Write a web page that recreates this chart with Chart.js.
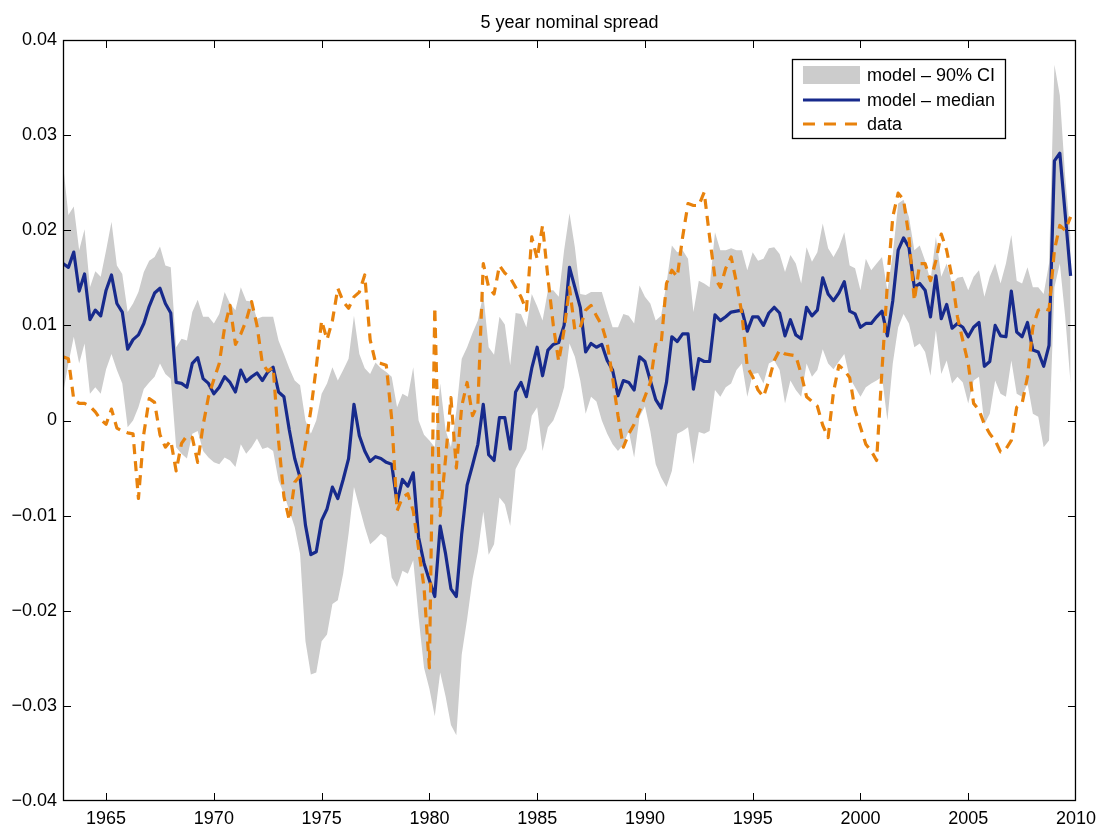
<!DOCTYPE html>
<html>
<head>
<meta charset="utf-8">
<title>5 year nominal spread</title>
<script src="https://cdn.jsdelivr.net/npm/chart.js@4.4.1/dist/chart.umd.min.js"></script>
<style>
  html, body { margin: 0; padding: 0; background: #fff; }
  #wrap { width: 1103px; height: 826px; }
</style>
</head>
<body>
<div id="wrap"><canvas id="spread"></canvas></div>
<script>
// quarterly observations, first one is 1963Q1
const startYear = 1963;

const xTicks = [1965, 1970, 1975, 1980, 1985, 1990, 1995, 2000, 2005, 2010];
const yTicks = [-0.04, -0.03, -0.02, -0.01, 0, 0.01, 0.02, 0.03, 0.04];

// model - median
const median = [
  0.0165, 0.0161, 0.0177, 0.0136,   // 1963
  0.0154, 0.0106, 0.0116, 0.0110,
  0.0137, 0.0153, 0.0123, 0.0114,   // 1965
  0.0075, 0.0085, 0.0090, 0.0102,
  0.0120, 0.0134, 0.0139, 0.0123,
  0.0113, 0.0040, 0.0039, 0.0035,
  0.0060, 0.0066, 0.0044, 0.0039,
  0.0028, 0.0035, 0.0046, 0.0040,   // 1970
  0.0030, 0.0053, 0.0041, 0.0046,
  0.0050, 0.0042, 0.0051, 0.0056,
  0.0030, 0.0025, -0.0010, -0.0040,
  -0.0060, -0.0110, -0.0141, -0.0138,
  -0.0105, -0.0093, -0.0070, -0.0082, // 1975
  -0.0062, -0.0040, 0.0017, -0.0016,
  -0.0032, -0.0043, -0.0038, -0.0040,
  -0.0044, -0.0046, -0.0086, -0.0062,
  -0.0069, -0.0055, -0.0123, -0.0150,
  -0.0168, -0.0185, -0.0111, -0.0140, // 1980
  -0.0177, -0.0185, -0.0119, -0.0068,
  -0.0047, -0.0025, 0.0017, -0.0036,
  -0.0042, 0.0003, 0.0003, -0.0030,
  0.0030, 0.0040, 0.0025, 0.0055,
  0.0077, 0.0047, 0.0074, 0.0080,   // 1985
  0.0082, 0.0100, 0.0161, 0.0140,
  0.0119, 0.0072, 0.0081, 0.0077,
  0.0080, 0.0063, 0.0053, 0.0026,
  0.0042, 0.0040, 0.0032, 0.0067,
  0.0062, 0.0042, 0.0022, 0.0013,   // 1990
  0.0040, 0.0088, 0.0083, 0.0091,
  0.0091, 0.0033, 0.0065, 0.0062,
  0.0062, 0.0111, 0.0105, 0.0109,
  0.0114, 0.0115, 0.0116, 0.0094,
  0.0109, 0.0109, 0.0100, 0.0113,   // 1995
  0.0119, 0.0113, 0.0089, 0.0106,
  0.0090, 0.0086, 0.0119, 0.0110,
  0.0116, 0.0150, 0.0133, 0.0126,
  0.0134, 0.0146, 0.0115, 0.0112,
  0.0098, 0.0102, 0.0102, 0.0109,   // 2000
  0.0115, 0.0089, 0.0126, 0.0179,
  0.0192, 0.0182, 0.0140, 0.0144,
  0.0137, 0.0109, 0.0152, 0.0107,
  0.0122, 0.0097, 0.0102, 0.0098,
  0.0088, 0.0098, 0.0103, 0.0057,   // 2005
  0.0062, 0.0100, 0.0089, 0.0088,
  0.0136, 0.0093, 0.0088, 0.0103,
  0.0074, 0.0072, 0.0057, 0.0079,
  0.0273, 0.0281, 0.0217, 0.0152    // 2009
];

// model - 90% CI, upper edge
const ciUpper = [
  0.0270, 0.0216, 0.0225, 0.0179,   // 1963
  0.0201, 0.0140, 0.0157, 0.0151,
  0.0179, 0.0209, 0.0163, 0.0154,   // 1965
  0.0114, 0.0123, 0.0135, 0.0156,
  0.0168, 0.0172, 0.0183, 0.0163,
  0.0161, 0.0077, 0.0086, 0.0084,
  0.0114, 0.0127, 0.0109, 0.0109,
  0.0102, 0.0112, 0.0135, 0.0123,   // 1970
  0.0116, 0.0140, 0.0126, 0.0125,
  0.0107, 0.0109, 0.0109, 0.0109,
  0.0084, 0.0070, 0.0055, 0.0042,
  0.0037, 0.0000, -0.0014, 0.0000,
  0.0028, 0.0039, 0.0056, 0.0042,   // 1975
  0.0053, 0.0065, 0.0110, 0.0070,
  0.0055, 0.0049, 0.0061, 0.0055,
  0.0051, 0.0046, 0.0014, 0.0028,
  0.0025, 0.0056, 0.0000, -0.0015,
  -0.0021, -0.0028, 0.0039, -0.0010, // 1980
  -0.0028, 0.0010, 0.0065, 0.0077,
  0.0092, 0.0105, 0.0133, 0.0077,
  0.0069, 0.0109, 0.0101, 0.0058,
  0.0113, 0.0112, 0.0098, 0.0133,
  0.0120, 0.0105, 0.0137, 0.0137,   // 1985
  0.0130, 0.0179, 0.0218, 0.0182,
  0.0133, 0.0132, 0.0135, 0.0135,
  0.0135, 0.0116, 0.0098, 0.0098,
  0.0112, 0.0110, 0.0102, 0.0142,
  0.0130, 0.0123, 0.0105, 0.0110,   // 1990
  0.0144, 0.0184, 0.0177, 0.0179,
  0.0170, 0.0114, 0.0147, 0.0144,
  0.0140, 0.0198, 0.0179, 0.0179,
  0.0181, 0.0179, 0.0179, 0.0158,
  0.0177, 0.0168, 0.0170, 0.0181,   // 1995
  0.0182, 0.0175, 0.0156, 0.0174,
  0.0165, 0.0144, 0.0182, 0.0167,
  0.0177, 0.0207, 0.0181, 0.0172,
  0.0182, 0.0198, 0.0163, 0.0160,
  0.0137, 0.0170, 0.0158, 0.0165,   // 2000
  0.0172, 0.0137, 0.0175, 0.0228,
  0.0232, 0.0214, 0.0179, 0.0184,
  0.0168, 0.0147, 0.0193, 0.0151,
  0.0165, 0.0144, 0.0150, 0.0151,
  0.0137, 0.0151, 0.0158, 0.0130,   // 2005
  0.0151, 0.0165, 0.0144, 0.0165,
  0.0195, 0.0147, 0.0144, 0.0161,
  0.0140, 0.0140, 0.0133, 0.0165,
  0.0374, 0.0342, 0.0256, 0.0193    // 2009
];

// model - 90% CI, lower edge
const ciLower = [
  0.0028, 0.0060, 0.0088, 0.0060,   // 1963
  0.0081, 0.0028, 0.0035, 0.0028,
  0.0054, 0.0070, 0.0053, 0.0039,   // 1965
  -0.0007, 0.0000, 0.0014, 0.0033,
  0.0040, 0.0046, 0.0060, 0.0049,
  0.0044, -0.0028, -0.0035, -0.0040,
  -0.0014, -0.0011, -0.0032, -0.0039,
  -0.0044, -0.0046, -0.0039, -0.0042, // 1970
  -0.0049, -0.0025, -0.0035, -0.0028,
  -0.0019, -0.0030, -0.0028, -0.0032,
  -0.0063, -0.0077, -0.0095, -0.0112,
  -0.0140, -0.0232, -0.0267, -0.0265,
  -0.0232, -0.0225, -0.0193, -0.0189, // 1975
  -0.0161, -0.0119, -0.0070, -0.0091,
  -0.0112, -0.0130, -0.0125, -0.0119,
  -0.0123, -0.0165, -0.0175, -0.0158,
  -0.0161, -0.0147, -0.0207, -0.0260,
  -0.0282, -0.0311, -0.0265, -0.0290, // 1980
  -0.0320, -0.0331, -0.0246, -0.0209,
  -0.0167, -0.0138, -0.0096, -0.0141,
  -0.0130, -0.0081, -0.0088, -0.0111,
  -0.0051, -0.0040, -0.0030, 0.0005,
  0.0014, -0.0032, -0.0007, 0.0000,  // 1985
  0.0015, 0.0035, 0.0081, 0.0067,
  0.0042, 0.0007, 0.0025, 0.0020,
  0.0000, -0.0014, -0.0025, -0.0032,
  -0.0025, -0.0011, -0.0039, 0.0004,
  0.0015, -0.0011, -0.0046, -0.0060, // 1990
  -0.0070, -0.0053, -0.0014, -0.0011,
  -0.0007, -0.0046, -0.0012, -0.0014,
  -0.0011, 0.0032, 0.0025, 0.0035,
  0.0039, 0.0053, 0.0060, 0.0025,
  0.0049, 0.0050, 0.0039, 0.0060,   // 1995
  0.0063, 0.0053, 0.0018, 0.0042,
  0.0032, 0.0025, 0.0060, 0.0046,
  0.0053, 0.0075, 0.0060, 0.0054,
  0.0062, 0.0070, 0.0045, 0.0035,
  0.0025, 0.0035, 0.0039, 0.0042,   // 2000
  0.0046, 0.0000, 0.0060, 0.0098,
  0.0112, 0.0102, 0.0077, 0.0081,
  0.0072, 0.0047, 0.0095, 0.0049,
  0.0063, 0.0039, 0.0046, 0.0040,
  0.0018, 0.0042, 0.0046, -0.0004,  // 2005
  0.0007, 0.0042, 0.0028, 0.0025,
  0.0063, 0.0028, 0.0025, 0.0039,
  0.0007, 0.0004, -0.0028, -0.0021,
  0.0140, 0.0165, 0.0109, 0.0039    // 2009
];

// data
const observed = [
  0.0067, 0.0065, 0.0022, 0.0018,   // 1963
  0.0018, 0.0015, 0.0009, 0.0001,
  -0.0004, 0.0012, -0.0008, -0.0011, // 1965
  -0.0013, -0.0014, -0.0082, -0.0014,
  0.0023, 0.0019, -0.0015, -0.0028,
  -0.0021, -0.0053, -0.0024, -0.0016,
  -0.0018, -0.0044, -0.0005, 0.0025,
  0.0043, 0.0060, 0.0098, 0.0121,   // 1970
  0.0080, 0.0091, 0.0105, 0.0125,
  0.0100, 0.0060, 0.0052, 0.0056,
  -0.0021, -0.0080, -0.0105, -0.0065,
  -0.0058, -0.0025, 0.0011, 0.0056,
  0.0105, 0.0085, 0.0105, 0.0139,   // 1975
  0.0125, 0.0118, 0.0130, 0.0135,
  0.0153, 0.0085, 0.0061, 0.0060,
  0.0058, 0.0002, -0.0095, -0.0081,
  -0.0077, -0.0095, -0.0135, -0.0175,
  -0.0260, 0.0119, -0.0100, -0.0040, // 1980
  0.0024, -0.0050, 0.0015, 0.0040,
  0.0005, 0.0017, 0.0165, 0.0140,
  0.0133, 0.0163, 0.0155, 0.0150,
  0.0140, 0.0130, 0.0116, 0.0193,
  0.0170, 0.0205, 0.0150, 0.0100,   // 1985
  0.0062, 0.0095, 0.0140, 0.0095,
  0.0098, 0.0116, 0.0121, 0.0110,
  0.0100, 0.0081, 0.0045, 0.0005,
  -0.0028, -0.0014, -0.0004, 0.0010,
  0.0025, 0.0040, 0.0080, 0.0080,   // 1990
  0.0144, 0.0158, 0.0151, 0.0193,
  0.0228, 0.0226, 0.0226, 0.0240,
  0.0193, 0.0150, 0.0140, 0.0160,
  0.0172, 0.0145, 0.0112, 0.0056,
  0.0046, 0.0032, 0.0025, 0.0042,   // 1995
  0.0063, 0.0074, 0.0070, 0.0069,
  0.0068, 0.0049, 0.0025, 0.0020,
  0.0015, -0.0005, -0.0018, 0.0030,
  0.0058, 0.0053, 0.0045, 0.0011,
  -0.0007, -0.0025, -0.0032, -0.0042, // 2000
  0.0053, 0.0144, 0.0214, 0.0239,
  0.0232, 0.0193, 0.0126, 0.0165,
  0.0165, 0.0147, 0.0168, 0.0196,
  0.0179, 0.0150, 0.0109, 0.0084,
  0.0060, 0.0018, 0.0011, -0.0004,  // 2005
  -0.0014, -0.0021, -0.0033, -0.0030,
  -0.0021, 0.0014, 0.0018, 0.0046,
  0.0098, 0.0116, 0.0118, 0.0116,
  0.0179, 0.0205, 0.0200, 0.0214    // 2009
];

const FONT = { family: '"Liberation Sans", Arial, Helvetica, sans-serif', size: 18 };
const BAND = '#cccccc';
const BLUE = '#172a8c';
const ORANGE = '#e8820c';

function toPoints(vals) {
  return vals.map((v, i) => ({ x: startYear + i / 4, y: v }));
}

function tickLabel(v) {
  if (Math.abs(v) < 1e-9) return '0';
  return (v < 0 ? '\u2212' : '') + Math.abs(v).toFixed(2);
}

// frame with inward ticks (matlab style) + legend box in the upper right
const framePlugin = {
  id: 'frame',
  afterDatasetsDraw(chart) {
    const { ctx, chartArea: a, scales } = chart;
    const x = scales.x, y = scales.y;
    const len = 8;
    ctx.save();
    ctx.strokeStyle = '#000';
    ctx.lineWidth = 1;
    ctx.beginPath();
    // ticks that sit on the frame itself are skipped
    xTicks.filter(v => v > x.min && v < x.max).forEach(v => {
      const px = Math.round(x.getPixelForValue(v)) + 0.5;
      ctx.moveTo(px, a.bottom); ctx.lineTo(px, a.bottom - len);
      ctx.moveTo(px, a.top); ctx.lineTo(px, a.top + len);
    });
    yTicks.filter(v => v > y.min && v < y.max).forEach(v => {
      const py = Math.round(y.getPixelForValue(v)) + 0.5;
      ctx.moveTo(a.left, py); ctx.lineTo(a.left + len, py);
      ctx.moveTo(a.right, py); ctx.lineTo(a.right - len, py);
    });
    ctx.stroke();
    ctx.lineWidth = 1.3;
    ctx.strokeRect(a.left + 0.5, a.top + 0.5, a.right - a.left - 1, a.bottom - a.top - 1);

    // legend
    const ds = chart.data.datasets;
    const boxL = a.right - 284, boxT = a.top + 19, boxW = 213, boxH = 79;
    ctx.fillStyle = '#fff';
    ctx.fillRect(boxL, boxT, boxW, boxH);
    ctx.strokeRect(boxL + 0.5, boxT + 0.5, boxW, boxH);
    const sx = boxL + 11, ex = boxL + 68, tx = boxL + 75;
    const rows = [boxT + 16, boxT + 41, boxT + 65];
    ctx.fillStyle = BAND;
    ctx.fillRect(sx, rows[0] - 9, ex - sx, 18);
    ctx.lineWidth = 3;
    ctx.strokeStyle = BLUE;
    ctx.beginPath(); ctx.moveTo(sx, rows[1]); ctx.lineTo(ex, rows[1]); ctx.stroke();
    ctx.strokeStyle = ORANGE;
    ctx.setLineDash([12, 9]);
    ctx.beginPath(); ctx.moveTo(sx, rows[2]); ctx.lineTo(ex, rows[2]); ctx.stroke();
    ctx.setLineDash([]);
    ctx.fillStyle = '#000';
    ctx.font = FONT.size + 'px ' + FONT.family;
    ctx.textBaseline = 'middle';
    ctx.textAlign = 'left';
    ctx.fillText(ds[1].label, tx, rows[0] + 1);
    ctx.fillText(ds[2].label, tx, rows[1] + 1);
    ctx.fillText(ds[3].label, tx, rows[2] + 1);
    ctx.restore();
  }
};

new Chart(document.getElementById('spread'), {
  type: 'line',
  data: {
    datasets: [
      { label: 'lower', data: toPoints(ciLower), borderWidth: 0, pointRadius: 0, fill: false, order: 3 },
      { label: 'model \u2013 90% CI', data: toPoints(ciUpper), borderWidth: 0, pointRadius: 0,
        fill: '-1', backgroundColor: BAND, order: 2 },
      { label: 'model \u2013 median', data: toPoints(median), borderColor: BLUE, borderWidth: 3.2,
        pointRadius: 0, fill: false, order: 1 },
      { label: 'data', data: toPoints(observed), borderColor: ORANGE, borderWidth: 3.2,
        borderDash: [10, 7], pointRadius: 0, fill: false, order: 0 }
    ]
  },
  options: {
    responsive: true,
    maintainAspectRatio: false,
    animation: false,
    layout: { padding: { left: 0, right: 26, top: 0, bottom: 0 } },
    elements: { line: { tension: 0, borderJoinStyle: 'round' } },
    plugins: {
      legend: { display: false },
      tooltip: { enabled: false },
      title: {
        display: true,
        fullSize: false,
        text: '5 year nominal spread',
        color: '#000',
        font: { family: FONT.family, size: 18, weight: 'normal' },
        padding: { top: 12, bottom: 6.4 }
      }
    },
    scales: {
      x: {
        type: 'linear',
        min: startYear,
        max: 2010,
        grid: { display: false, drawTicks: false },
        border: { display: false },
        afterBuildTicks: s => { s.ticks = xTicks.map(v => ({ value: v })); },
        afterFit: s => { s.height = 25; },
        ticks: { color: '#000', font: FONT, padding: 7, maxRotation: 0, autoSkip: false,
                 callback: v => String(v) }
      },
      y: {
        min: -0.04,
        max: 0.04,
        grid: { display: false, drawTicks: false },
        border: { display: false },
        afterBuildTicks: s => { s.ticks = yTicks.map(v => ({ value: v })); },
        afterFit: s => { s.width = 63; },
        ticks: { color: '#000', font: FONT, padding: 6, autoSkip: false, callback: tickLabel }
      }
    }
  },
  plugins: [framePlugin]
});
</script>
</body>
</html>
